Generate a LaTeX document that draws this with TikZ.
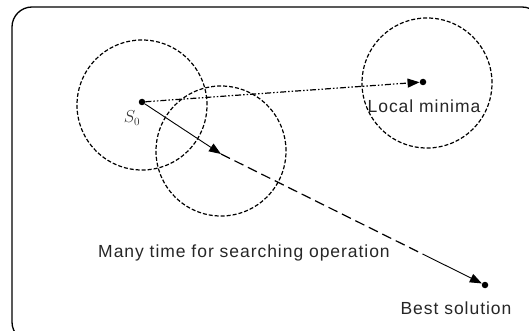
\documentclass[tikz,border=0pt]{standalone}
\usepackage{fontspec}
\newfontfamily\labelfont[LetterSpace=5.5]{Liberation Sans}
\usetikzlibrary{arrows.meta}
\begin{document}
\begin{tikzpicture}[x=1pt,y=-1pt,
  region/.style={draw, circle, line width=1.2pt, dash pattern=on 4pt off 2pt, minimum size=130pt, inner sep=0pt},
  pt/.style={circle, fill, inner sep=0pt, minimum size=6.5pt},
  tip/.style={-{Triangle[length=12pt,width=9pt]}},
  lbl/.style={text=black!85, font=\labelfont\fontsize{17.5}{20}\selectfont, inner sep=0pt, anchor=base},
]
\useasboundingbox (0,0) rectangle (529,331);
\clip (0,0) rectangle (529,331);
% outer frame
\draw[line width=1.3pt, rounded corners=20pt] (12,7) rectangle (542,342);

% search neighbourhoods
\node[region] (c1) at (142,105) {};
\node[region] (c2) at (221,151) {};
\node[region] (c3) at (427,83) {};

% points
\node[pt] (s0) at (142,102) {};
\node[pt] (lm) at (423,82) {};
\node[pt] (best) at (485,285) {};
\coordinate (mid) at (221,154);
\coordinate (bend) at (423,254.2);

% connectors
\draw[tip, line width=1.2pt, dash pattern=on 6pt off 2pt on 1.5pt off 2pt on 1.5pt off 2pt] (s0) -- (lm);
\draw[tip, line width=0.9pt] (s0) -- (mid);
\draw[line width=1.2pt, dash pattern=on 10pt off 5pt] (mid) -- (bend);
\draw[tip, line width=0.9pt] (bend) -- (best);

% labels
\node[text=black!80, inner sep=0pt, anchor=base, font=\fontsize{16}{18}\selectfont] (s0lbl) at (132,122.7) {$S_0$};
\node[lbl] (lmlbl) at (424,113) {Local minima};
\node[lbl] (oplbl) at (244,257) {Many time for searching operation};
\node[lbl] (bslbl) at (456,314) {Best solution};
\end{tikzpicture}
\end{document}
